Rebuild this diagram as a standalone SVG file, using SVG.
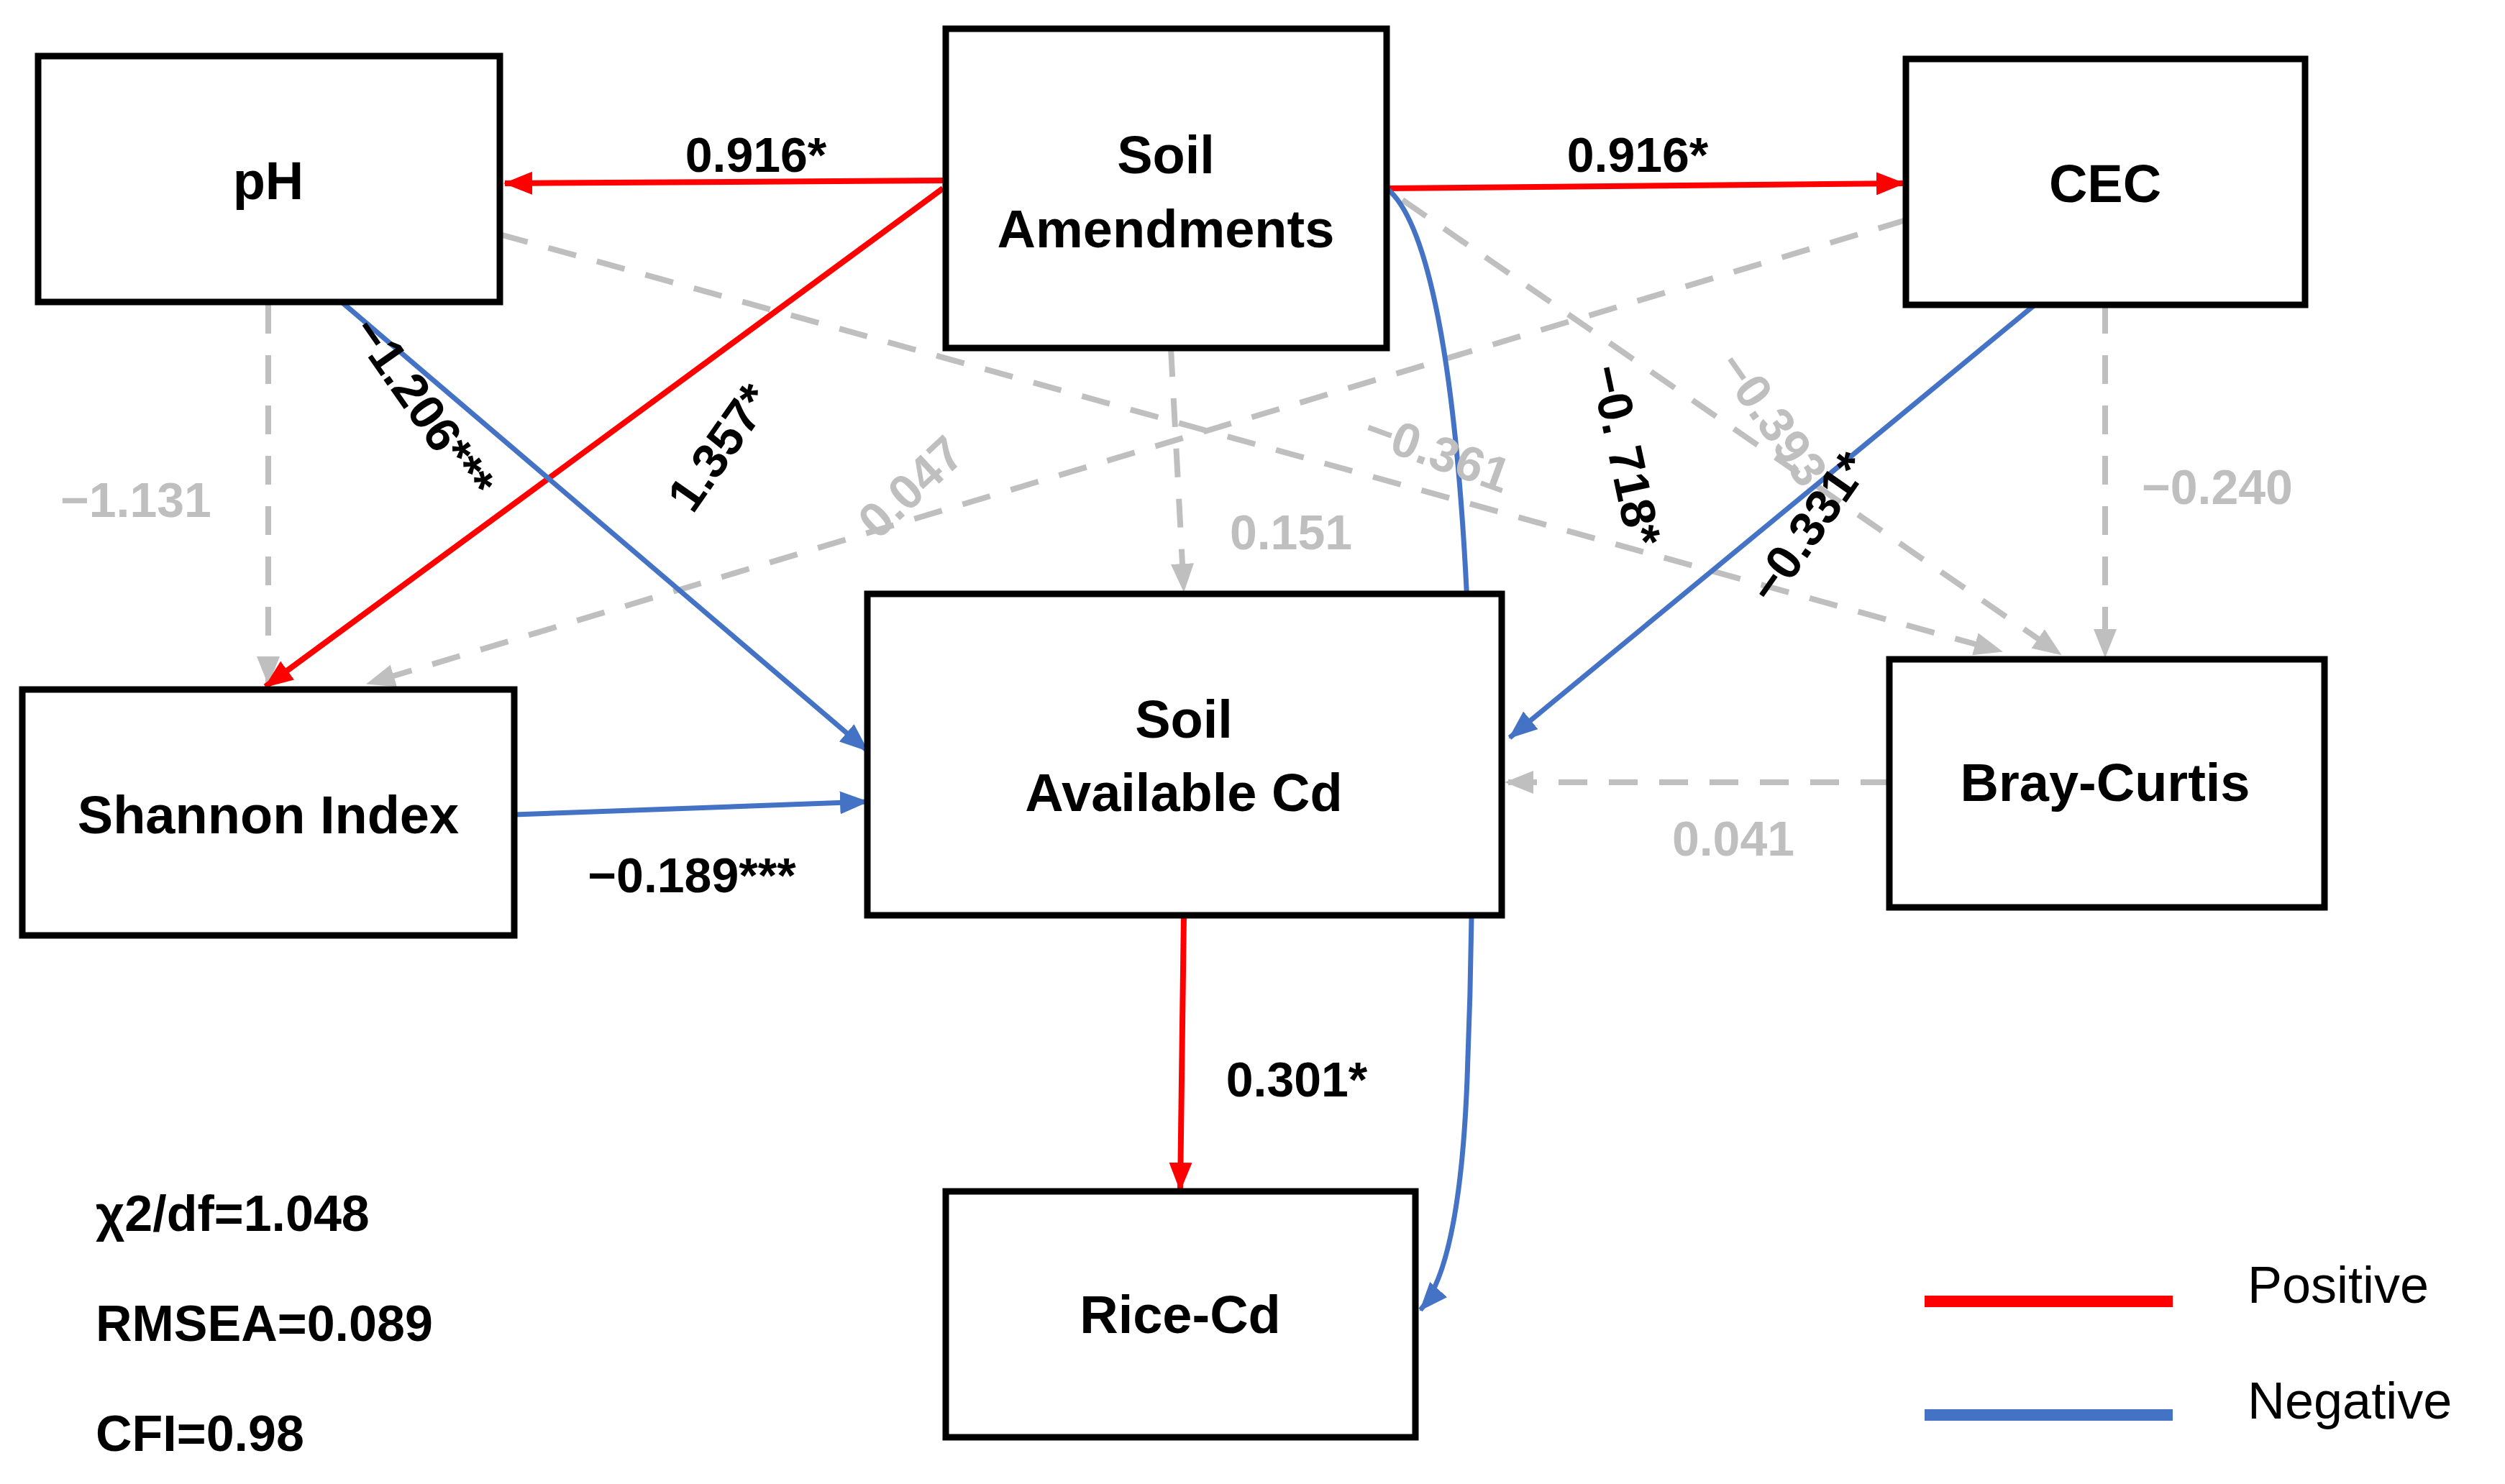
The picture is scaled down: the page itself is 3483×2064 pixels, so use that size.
<svg xmlns="http://www.w3.org/2000/svg" width="3483" height="2064" viewBox="0 0 3483 2064">
<style>
.n{fill:#fff;stroke:#000;stroke-width:9}
.t{font-family:"Liberation Sans",Arial,sans-serif;font-weight:bold;font-size:74px;text-anchor:middle;dominant-baseline:central;fill:#000}
.l{font-family:"Liberation Sans",Arial,sans-serif;font-weight:bold;font-size:68px;text-anchor:middle;dominant-baseline:central;fill:#000}
.g{fill:#bfbfbf}
.r{stroke:#ff0000;stroke-width:8;fill:none}
.b{stroke:#4472c4;stroke-width:7;fill:none}
.d{stroke:#bfbfbf;stroke-width:8;fill:none;stroke-dasharray:40 30}
.s{font-family:"Liberation Sans",Arial,sans-serif;font-weight:bold;font-size:70px;fill:#000}
.lg{font-family:"Liberation Sans",Arial,sans-serif;font-size:72px;fill:#000}
</style>
<defs>
<marker id="ar" markerUnits="userSpaceOnUse" markerWidth="40" markerHeight="32" refX="38" refY="16" orient="auto"><path d="M0,0 L40,16 L0,32 z" fill="#ff0000"/></marker>
<marker id="ab" markerUnits="userSpaceOnUse" markerWidth="40" markerHeight="32" refX="38" refY="16" orient="auto"><path d="M0,0 L40,16 L0,32 z" fill="#4472c4"/></marker>
<marker id="ag" markerUnits="userSpaceOnUse" markerWidth="40" markerHeight="32" refX="38" refY="16" orient="auto"><path d="M0,0 L40,16 L0,32 z" fill="#bfbfbf"/></marker>
</defs>
<rect width="3483" height="2064" fill="#fff"/>
<g id="connectors">
<line class="d" x1="373" y1="424" x2="373" y2="951" marker-end="url(#ag)"/>
<line class="d" x1="2650" y1="306" x2="511" y2="951" marker-end="url(#ag)"/>
<line class="d" x1="695" y1="326" x2="2783" y2="906" marker-end="url(#ag)"/>
<line class="d" x1="1950" y1="278" x2="2865" y2="910" marker-end="url(#ag)"/>
<line class="d" x1="1628" y1="484" x2="1646" y2="822" marker-end="url(#ag)"/>
<line class="d" x1="2927" y1="424" x2="2927" y2="913" marker-end="url(#ag)"/>
<line class="d" x1="2627" y1="1088" x2="2094" y2="1088" marker-end="url(#ag)"/>
<line class="r" x1="1315" y1="251" x2="702" y2="255" marker-end="url(#ar)"/>
<line class="r" x1="1928" y1="262" x2="2647" y2="255" marker-end="url(#ar)"/>
<line class="r" x1="1311" y1="262" x2="369" y2="955" marker-end="url(#ar)"/>
<line class="r" x1="1646" y1="1273" x2="1641" y2="1655" marker-end="url(#ar)"/>
<line class="b" x1="475" y1="420" x2="1206" y2="1044" marker-end="url(#ab)"/>
<line class="b" x1="715" y1="1133" x2="1206" y2="1115" stroke-width="11" marker-end="url(#ab)"/>
<line class="b" x1="2834" y1="420" x2="2099" y2="1026" marker-end="url(#ab)"/>
<path class="b" d="M1928,262 C2040,350 2060,1000 2040,1500 Q2030,1760 1975,1822" stroke-width="5" marker-end="url(#ab)"/>
</g>
<g id="pH"><rect class="n" x="53" y="78" width="642" height="342"/><text class="t" x="373" y="251">pH</text></g>
<g id="SoilAmendments"><rect class="n" x="1315" y="40" width="613" height="444"/><text class="t" x="1621" y="215">Soil</text><text class="t" x="1621" y="318">Amendments</text></g>
<g id="CEC"><rect class="n" x="2650" y="82" width="555" height="342"/><text class="t" x="2927" y="255">CEC</text></g>
<g id="Shannon"><rect class="n" x="31" y="959" width="684" height="342"/><text class="t" x="373" y="1133">Shannon Index</text></g>
<g id="SAC"><rect class="n" x="1206" y="826" width="882" height="447"/><text class="t" x="1646" y="1000">Soil</text><text class="t" x="1646" y="1102">Available Cd</text></g>
<g id="BrayCurtis"><rect class="n" x="2627" y="917" width="605" height="345"/><text class="t" x="2927" y="1088">Bray-Curtis</text></g>
<g id="RiceCd"><rect class="n" x="1315" y="1657" width="653" height="342"/><text class="t" x="1641" y="1828">Rice-Cd</text></g>
<g id="labels">
<text class="l" x="1051" y="215">0.916*</text>
<text class="l" x="2277" y="215">0.916*</text>
<text class="l" transform="translate(1000,622) rotate(-55)" x="0" y="0">1.357*</text>
<text class="l" transform="translate(589,566) rotate(55)" x="0" y="0">−1.206***</text>
<text class="l g" x="189" y="695">−1.131</text>
<text class="l g" transform="translate(1266,677) rotate(-43)" x="0" y="0">0.047</text>
<text class="l g" x="1795" y="740">0.151</text>
<text class="l g" transform="translate(1999,628) rotate(20)" x="0" y="0">−0.361</text>
<text class="l" transform="translate(2261,633) rotate(78)" x="0" y="0">−0. 718*</text>
<text class="l g" transform="translate(2465,582) rotate(55)" x="0" y="0">−0.393</text>
<text class="l" transform="translate(2514,733) rotate(-55)" x="0" y="0">−0.331*</text>
<text class="l g" x="3083" y="677">−0.240</text>
<text class="l g" x="2410" y="1166">0.041</text>
<text class="l" x="962" y="1217">−0.189***</text>
<text class="l" x="1803" y="1501">0.301*</text>
</g>
<g id="stats">
<text class="s" x="133" y="1712">χ2/df=1.048</text>
<text class="s" x="133" y="1865">RMSEA=0.089</text>
<text class="s" x="133" y="2018">CFI=0.98</text>
</g>
<g id="legend">
<line x1="2676" y1="1810" x2="3021" y2="1810" stroke="#ff0000" stroke-width="16"/>
<line x1="2676" y1="1968" x2="3021" y2="1968" stroke="#4472c4" stroke-width="16"/>
<text class="lg" x="3125" y="1812">Positive</text>
<text class="lg" x="3125" y="1973">Negative</text>
</g>
</svg>
